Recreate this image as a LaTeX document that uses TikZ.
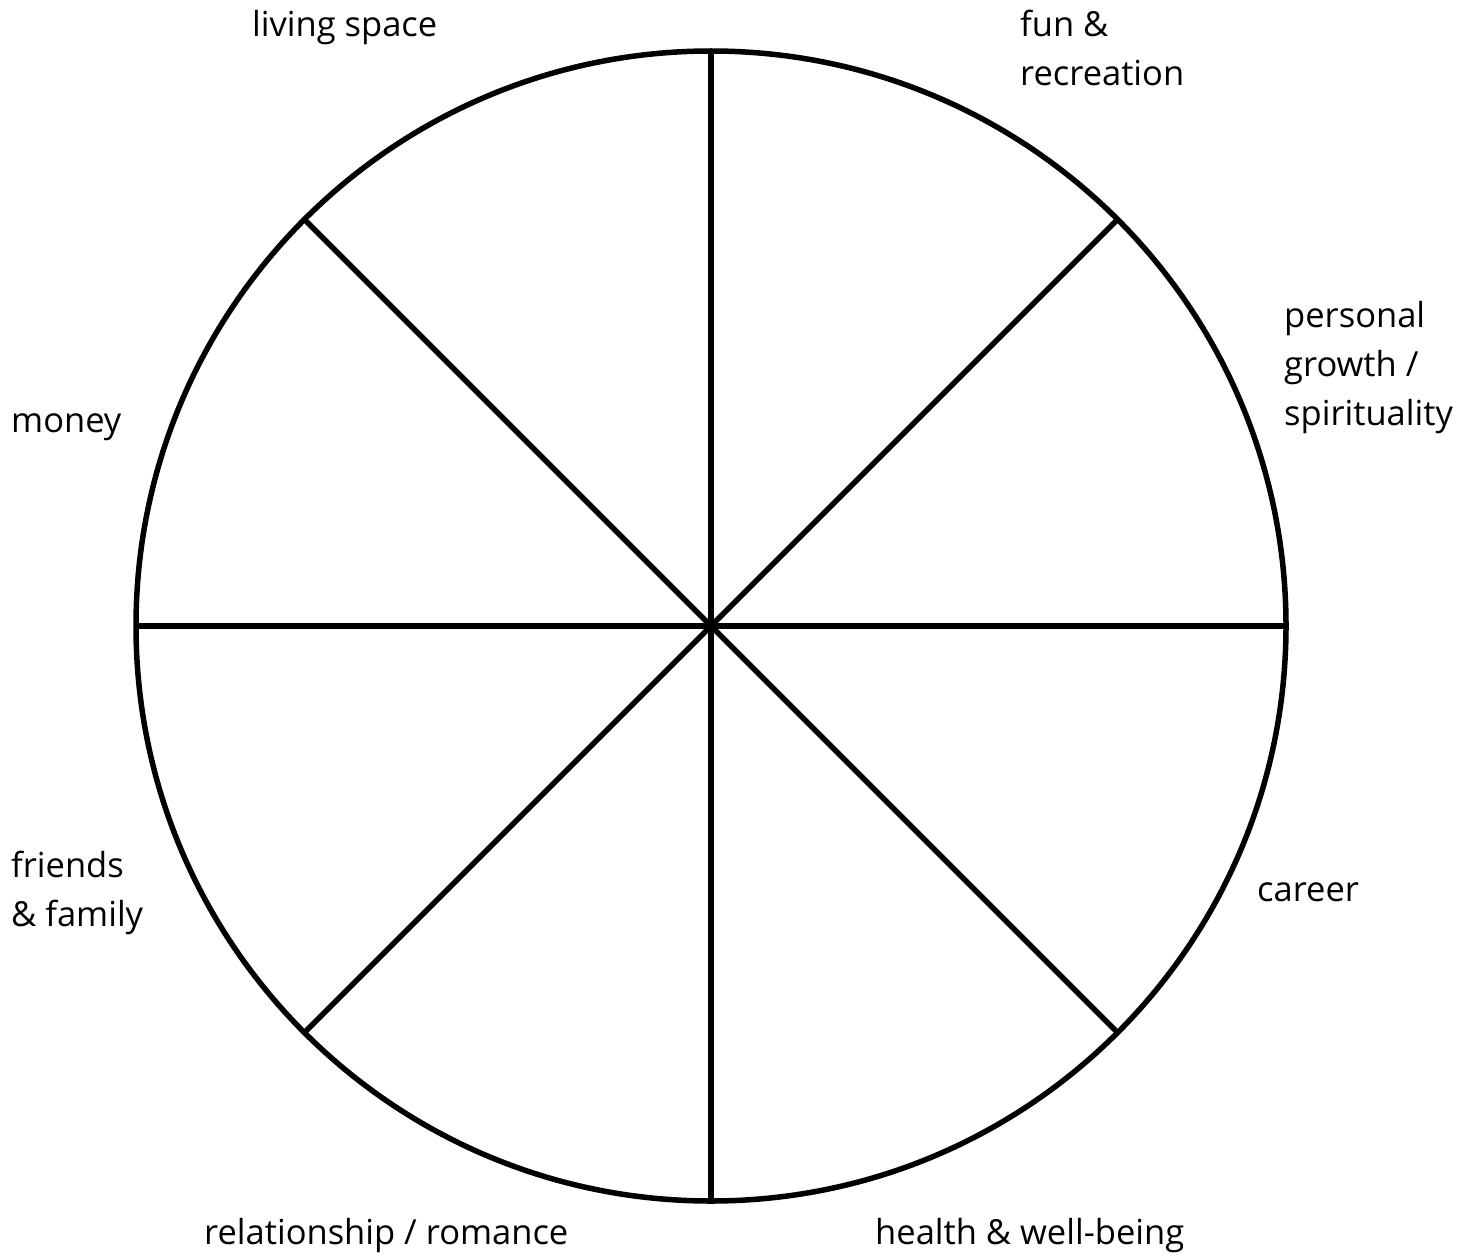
\documentclass[tikz,border=0pt]{standalone}
\usepackage{fontspec}
\setmainfont{Open Sans}
\begin{document}
\begin{tikzpicture}[x=1pt,y=-1pt,
  spoke/.style={line width=5.5pt},
  rim/.style={line width=5.5pt},
  lab/.style={anchor=base west,inner sep=0pt,align=left,font=\fontsize{34.5}{49}\selectfont}]
\useasboundingbox (0,0) rectangle (1469,1260);
\coordinate (c) at (711,626);
\draw[rim] (c) circle[radius=575];
\coordinate (n) at (711,51);
\coordinate (s) at (711,1201);
\coordinate (w) at (136,626);
\coordinate (e) at (1286,626);
\coordinate (nw) at (304,219);
\coordinate (ne) at (1118,219);
\coordinate (sw) at (304,1033);
\coordinate (se) at (1118,1033);
\draw[spoke] (n) -- (s);
\draw[spoke] (w) -- (e);
\draw[spoke] (nw) -- (se);
\draw[spoke] (ne) -- (sw);
\node[lab] (l1) at (252,37) {living space};
\node[lab] (l2) at (1020,86) {fun \&\\recreation};
\node[lab] (l3) at (1284,425) {personal\\growth /\\spirituality};
\node[lab] (l4) at (11,432) {money};
\node[lab] (l5) at (11,926) {friends\\\& family};
\node[lab] (l6) at (1257,901) {career};
\node[lab] (l7) at (204,1244) {relationship / romance};
\node[lab] (l8) at (875,1244) {health \& well-being};
\end{tikzpicture}
\end{document}
